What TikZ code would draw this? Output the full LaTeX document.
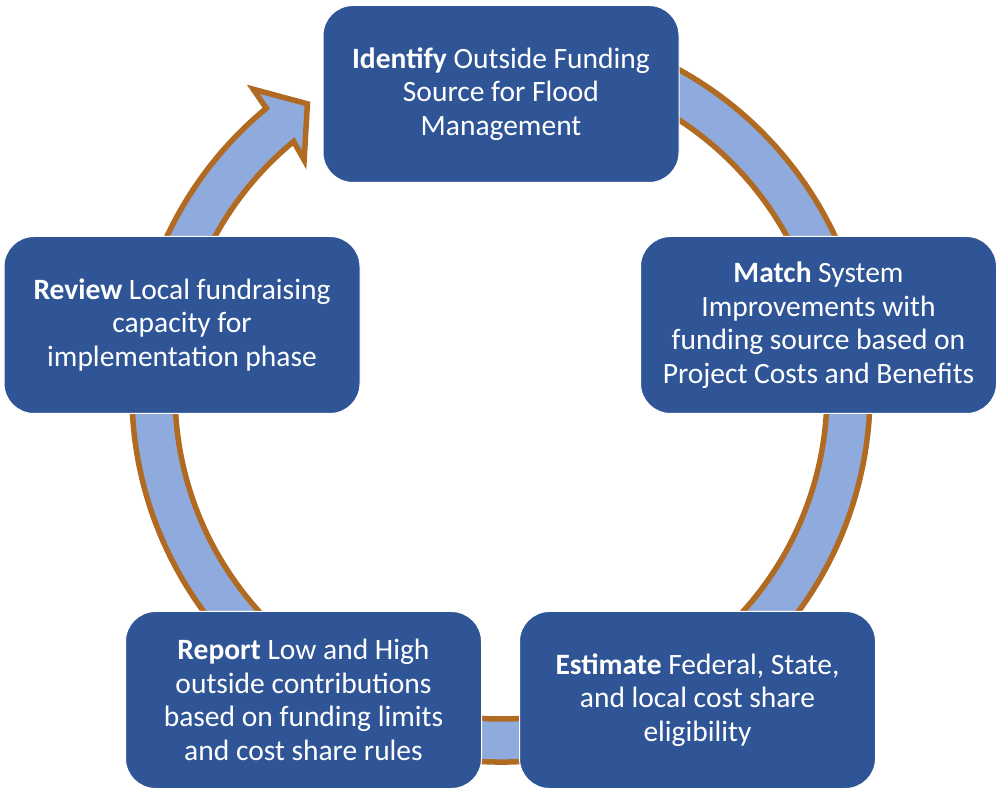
\documentclass[tikz,border=0pt]{standalone}
\usepackage{fontspec}
\setmainfont{Carlito}
\usetikzlibrary{positioning}
\definecolor{boxblue}{HTML}{2F5597}
\definecolor{ringblue}{HTML}{8FAADC}
\definecolor{ringbrown}{HTML}{B06A22}

\begin{document}
\begin{tikzpicture}[x=1pt, y=1pt,
    node distance = 37pt and 37pt,
    MN/.style = {draw=white, line width=1pt,
                    fill=boxblue, text=white,
                    rounded corners=30pt,
                    minimum width=356pt, minimum height=177pt,
                    inner sep=2pt, align=center,
                    font=\fontsize{29.5}{33.5}\selectfont},
    ring/.style = {draw=ringbrown, fill=ringblue,
                    line width=5.5pt, line join=miter}]
%---
\useasboundingbox (0,0) rectangle (996,790);
\coordinate (c) at (501,397);
% circular arrow, behind the boxes
\draw[ring] ([shift={(80:369)}]c) arc[start angle=80, end angle=-230.5, radius=369]
        -- ([shift={(129.2:392)}]c) -- ([shift={(123.8:348)}]c)
        -- ([shift={(130.2:305)}]c) -- ([shift={(129.5:326)}]c)
        arc[start angle=-230.5, end angle=80, radius=326] -- cycle;
% top
\node (n1) [MN] at (501,696)     {\textbf{Identify} Outside Funding\\Source for Flood\\Management};
% middle
\node (n2) [MN] at (818.5,465)   {\textbf{Match} System\\Improvements with\\funding source based on\\Project Costs and Benefits};
\node (n5) [MN] at (182,465)     {\textbf{Review} Local fundraising\\capacity for\\implementation phase};
% bottom
\node (n3) [MN] at (697.5,90)    {\textbf{Estimate} Federal, State,\\and local cost share\\eligibility};
\node (n4) [MN,left=of n3]       {\textbf{Report} Low and High\\outside contributions\\based on funding limits\\and cost share rules};
\end{tikzpicture}
\end{document}
